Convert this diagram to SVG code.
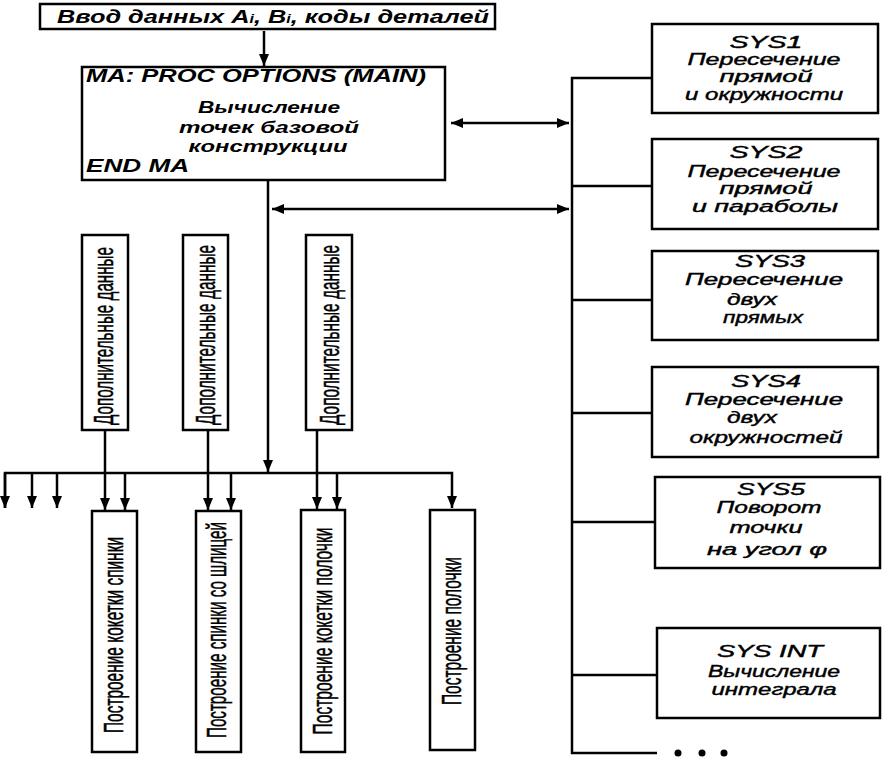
<svg xmlns="http://www.w3.org/2000/svg" width="885" height="759" viewBox="0 0 885 759">
<style>
.box{fill:#fff;stroke:#000;stroke-width:2.5}
.ln{fill:none;stroke:#000;stroke-width:2.5}
.t{font-family:"Liberation Sans",Arial,sans-serif;font-style:italic;fill:#000}
.b{font-weight:bold}
.s{font-size:16px;text-anchor:middle;stroke:#000;stroke-width:0.4}
.v{font-family:"Liberation Sans",Arial,sans-serif;font-size:27px;fill:#000;stroke:#000;stroke-width:0.5;text-anchor:middle;dominant-baseline:central}
</style>
<defs>
<marker id="ah" markerUnits="userSpaceOnUse" markerWidth="12" markerHeight="12" viewBox="0 0 12 12" refX="12" refY="6" orient="auto-start-reverse">
<path d="M0,1 L12,6 L0,11 Z" fill="#000"/>
</marker>
</defs>
<rect width="885" height="759" fill="#fff"/>

<g id="connectors">
<line class="ln" x1="264" y1="31" x2="264" y2="66" marker-end="url(#ah)"/>
<line class="ln" x1="268" y1="180" x2="268" y2="472" marker-end="url(#ah)"/>
<line class="ln" x1="451" y1="123" x2="569" y2="123" marker-start="url(#ah)" marker-end="url(#ah)"/>
<line class="ln" x1="272" y1="209" x2="569" y2="209" marker-start="url(#ah)" marker-end="url(#ah)"/>
<polyline class="ln" points="652,78 572,78 572,753 657,753"/>
<line class="ln" x1="572" y1="186" x2="652" y2="186"/>
<line class="ln" x1="572" y1="300" x2="652" y2="300"/>
<line class="ln" x1="572" y1="413" x2="652" y2="413"/>
<line class="ln" x1="572" y1="522" x2="655" y2="522"/>
<line class="ln" x1="572" y1="675" x2="657" y2="675"/>
<circle cx="678" cy="753" r="3.5"/>
<circle cx="702" cy="753" r="3.5"/>
<circle cx="724" cy="753" r="3.5"/>
<polyline class="ln" points="5,508 5,473 452,473 452,508" marker-end="url(#ah)"/>
<line class="ln" x1="5" y1="473" x2="5" y2="508" marker-end="url(#ah)"/>
<line class="ln" x1="32" y1="473" x2="32" y2="508" marker-end="url(#ah)"/>
<line class="ln" x1="57" y1="473" x2="57" y2="508" marker-end="url(#ah)"/>
<line class="ln" x1="105" y1="430" x2="105" y2="510" marker-end="url(#ah)"/>
<line class="ln" x1="125" y1="473" x2="125" y2="510" marker-end="url(#ah)"/>
<line class="ln" x1="208" y1="430" x2="208" y2="510" marker-end="url(#ah)"/>
<line class="ln" x1="231" y1="473" x2="231" y2="510" marker-end="url(#ah)"/>
<line class="ln" x1="317" y1="430" x2="317" y2="509" marker-end="url(#ah)"/>
<line class="ln" x1="337" y1="473" x2="337" y2="509" marker-end="url(#ah)"/>
</g>

<g id="input">
<rect class="box" x="40" y="4" width="455" height="25"/>
<text class="t b" x="57" y="23" font-size="19" textLength="432" lengthAdjust="spacingAndGlyphs">Ввод данных A<tspan font-size="12">i</tspan>, B<tspan font-size="12">i</tspan>, коды деталей</text>
</g>

<g id="ma">
<rect class="box" x="82" y="67" width="363" height="113"/>
<text class="t b" x="86" y="82" font-size="18" textLength="340" lengthAdjust="spacingAndGlyphs">MA: PROC OPTIONS (MAIN)</text>
<text class="t b" x="269" y="113" font-size="17" text-anchor="middle" textLength="142" lengthAdjust="spacingAndGlyphs">Вычисление</text>
<text class="t b" x="269" y="133" font-size="17" text-anchor="middle" textLength="180" lengthAdjust="spacingAndGlyphs">точек базовой</text>
<text class="t b" x="268" y="152" font-size="17" text-anchor="middle" textLength="159" lengthAdjust="spacingAndGlyphs">конструкции</text>
<text class="t b" x="86" y="172" font-size="18" textLength="103" lengthAdjust="spacingAndGlyphs">END MA</text>
</g>

<g id="sys1">
<rect class="box" x="652" y="24" width="226" height="89"/>
<text class="t s" x="766" y="48" textLength="73" lengthAdjust="spacingAndGlyphs">SYS1</text>
<text class="t s" x="764" y="65" textLength="153" lengthAdjust="spacingAndGlyphs">Пересечение</text>
<text class="t s" x="766" y="82" textLength="93" lengthAdjust="spacingAndGlyphs">прямой</text>
<text class="t s" x="764" y="100" textLength="158" lengthAdjust="spacingAndGlyphs">и окружности</text>
</g>
<g id="sys2">
<rect class="box" x="652" y="139" width="226" height="90"/>
<text class="t s" x="766" y="158" textLength="73" lengthAdjust="spacingAndGlyphs">SYS2</text>
<text class="t s" x="764" y="177" textLength="153" lengthAdjust="spacingAndGlyphs">Пересечение</text>
<text class="t s" x="766" y="194" textLength="93" lengthAdjust="spacingAndGlyphs">прямой</text>
<text class="t s" x="765" y="212" textLength="146" lengthAdjust="spacingAndGlyphs">и параболы</text>
</g>
<g id="sys3">
<rect class="box" x="652" y="251" width="226" height="89"/>
<text class="t s" x="770" y="267" textLength="70" lengthAdjust="spacingAndGlyphs">SYS3</text>
<text class="t s" x="764" y="285" textLength="158" lengthAdjust="spacingAndGlyphs">Пересечение</text>
<text class="t s" x="752" y="305" textLength="50" lengthAdjust="spacingAndGlyphs">двух</text>
<text class="t s" x="763" y="323" textLength="80" lengthAdjust="spacingAndGlyphs">прямых</text>
</g>
<g id="sys4">
<rect class="box" x="652" y="367" width="226" height="90"/>
<text class="t s" x="766" y="387" textLength="70" lengthAdjust="spacingAndGlyphs">SYS4</text>
<text class="t s" x="764" y="405" textLength="158" lengthAdjust="spacingAndGlyphs">Пересечение</text>
<text class="t s" x="752" y="423" textLength="50" lengthAdjust="spacingAndGlyphs">двух</text>
<text class="t s" x="766" y="443" textLength="153" lengthAdjust="spacingAndGlyphs">окружностей</text>
</g>
<g id="sys5">
<rect class="box" x="655" y="477" width="225" height="91"/>
<text class="t s" x="771" y="495" textLength="68" lengthAdjust="spacingAndGlyphs">SYS5</text>
<text class="t s" x="769" y="513" textLength="105" lengthAdjust="spacingAndGlyphs">Поворот</text>
<text class="t s" x="766" y="533" textLength="73" lengthAdjust="spacingAndGlyphs">точки</text>
<text class="t s" x="767" y="555" textLength="120" lengthAdjust="spacingAndGlyphs">на угол φ</text>
</g>
<g id="sysint">
<rect class="box" x="657" y="628" width="223" height="90"/>
<text class="t s" x="770" y="657" textLength="106" lengthAdjust="spacingAndGlyphs">SYS INT</text>
<text class="t s" x="774" y="677" textLength="132" lengthAdjust="spacingAndGlyphs">Вычисление</text>
<text class="t s" x="774" y="695" textLength="125" lengthAdjust="spacingAndGlyphs">интеграла</text>
</g>

<g id="dop1">
<rect class="box" x="82" y="235" width="46" height="195"/>
<text class="v" transform="translate(104,336) rotate(-90)" textLength="178" lengthAdjust="spacingAndGlyphs">Дополнительные данные</text>
</g>
<g id="dop2">
<rect class="box" x="183" y="235" width="45" height="195"/>
<text class="v" transform="translate(206,335) rotate(-90)" textLength="180" lengthAdjust="spacingAndGlyphs">Дополнительные данные</text>
</g>
<g id="dop3">
<rect class="box" x="306" y="235" width="46" height="195"/>
<text class="v" transform="translate(330,335) rotate(-90)" textLength="180" lengthAdjust="spacingAndGlyphs">Дополнительные данные</text>
</g>

<g id="build1">
<rect class="box" x="92" y="511" width="45" height="241"/>
<text class="v" transform="translate(114,635) rotate(-90)" textLength="196" lengthAdjust="spacingAndGlyphs">Построение кокетки спинки</text>
</g>
<g id="build2">
<rect class="box" x="196" y="511" width="45" height="241"/>
<text class="v" transform="translate(217,630) rotate(-90)" textLength="216" lengthAdjust="spacingAndGlyphs">Построение спинки со шлицей</text>
</g>
<g id="build3">
<rect class="box" x="301" y="510" width="44" height="242"/>
<text class="v" transform="translate(323,631) rotate(-90)" textLength="207" lengthAdjust="spacingAndGlyphs">Построение кокетки полочки</text>
</g>
<g id="build4">
<rect class="box" x="430" y="510" width="45" height="240"/>
<text class="v" transform="translate(452,631) rotate(-90)" textLength="148" lengthAdjust="spacingAndGlyphs">Построение полочки</text>
</g>
</svg>
